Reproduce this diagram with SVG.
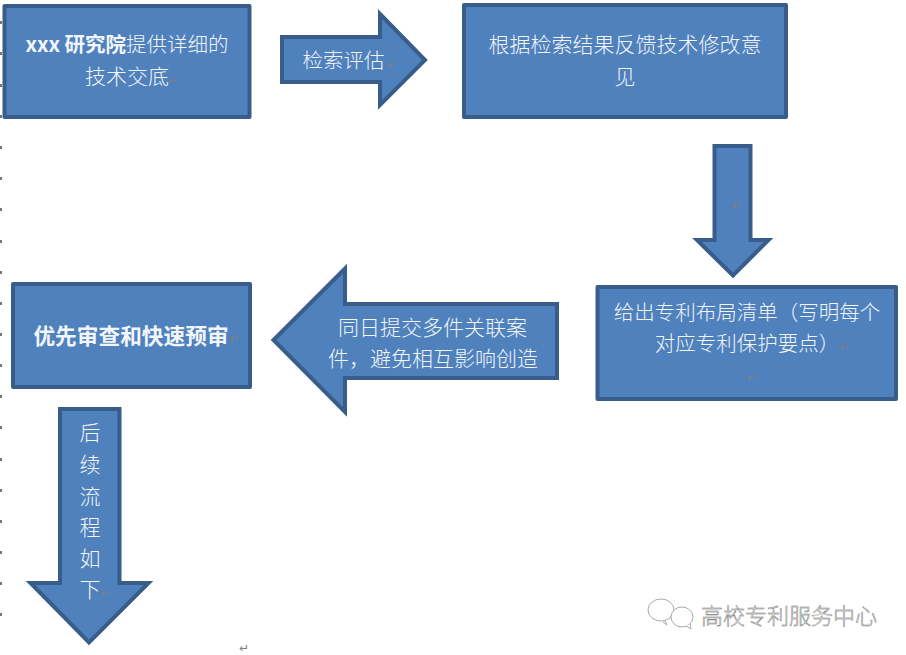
<svg xmlns="http://www.w3.org/2000/svg" width="906" height="655" viewBox="0 0 906 655">
<style>
.s{fill:#4f81bd;stroke:#385d8a;stroke-width:4;stroke-linejoin:miter}
.r{stroke-linejoin:round}
text{font-family:"Noto Sans CJK SC","Liberation Sans",sans-serif;font-size:21px;fill:#f2f5fa;text-anchor:middle;font-weight:300}
.b{font-weight:700}
.bb{font-weight:700;font-size:21.7px}
.n{font-size:20.5px}
.m{font-family:"DejaVu Sans",sans-serif;font-size:12px;fill:#7f7f7f;font-weight:400}
.w{fill:#fff;stroke:#777;stroke-width:.5;font-size:22px}
.t{fill:#777}
.i{fill:#fff;stroke:#aaa;stroke-width:1}
</style>
<g id="margin-ticks" class="t">
<rect x="0" y="21" width="2" height="3"/><rect x="0" y="52" width="2" height="3"/><rect x="0" y="84" width="2" height="3"/><rect x="0" y="115" width="2" height="3"/><rect x="0" y="146" width="2" height="3"/><rect x="0" y="177" width="2" height="3"/><rect x="0" y="208" width="2" height="3"/><rect x="0" y="240" width="2" height="3"/><rect x="0" y="271" width="2" height="3"/><rect x="0" y="302" width="2" height="3"/><rect x="0" y="333" width="2" height="3"/><rect x="0" y="364" width="2" height="3"/><rect x="0" y="395" width="2" height="3"/><rect x="0" y="426" width="2" height="3"/><rect x="0" y="458" width="2" height="3"/><rect x="0" y="489" width="2" height="3"/><rect x="0" y="520" width="2" height="3"/><rect x="0" y="551" width="2" height="3"/><rect x="0" y="582" width="2" height="3"/><rect x="0" y="613" width="2" height="3"/>
</g>
<g id="connectors">
<g id="arrow-search">
<path class="s" d="M282 37H380V14L425 60L380 105V82H282Z"/>
<text class="n" x="343.500" y="68">检索评估</text><text class="m" x="391" y="68">↵</text>
</g>
<g id="arrow-down-right">
<path class="s" d="M714.500 146H750.500V240H768.500L733 275.500L697 240H714.500Z"/>
<text class="m" x="736" y="209">↵</text>
</g>
<g id="arrow-left">
<path class="s" d="M557 304V378H345V412L273.500 340L345 268.500V304Z"/>
<text x="432.500" y="335">同日提交多件关联案</text><text x="433" y="366">件，避免相互影响创造</text>
</g>
<g id="arrow-down-left">
<path class="s" d="M60 409H119.500V583H148.500L89 642.500L30.500 583H60Z"/>
<text x="90" y="440">后</text><text x="90" y="472">续</text><text x="90" y="504">流</text><text x="90" y="535">程</text><text x="90" y="566">如</text><text x="90" y="597">下</text><text class="m" x="105" y="597">↵</text>
</g>
</g>
<g id="node-disclosure">
<rect class="s r" x="4.500" y="6" width="245" height="111"/>
<text class="n" x="127" y="52"><tspan class="b">xxx 研究院</tspan>提供详细的</text>
<text x="127" y="84">技术交底</text><text class="m" x="173" y="84">↵</text>
</g>
<g id="node-feedback">
<rect class="s r" x="464" y="5" width="322" height="112"/>
<text x="625" y="52">根据检索结果反馈技术修改意</text>
<text x="625" y="84">见</text>
</g>
<g id="node-list">
<rect class="s r" x="597.500" y="287" width="298.500" height="112"/>
<text class="n" x="747" y="320">给出专利布局清单（写明每个</text>
<text class="n" x="747" y="351">对应专利保护要点）</text>
<text class="m" x="844" y="351">↵</text><text class="m" x="751" y="381">↵</text>
</g>
<g id="node-priority">
<rect class="s r" x="13" y="284" width="237" height="103"/>
<text class="bb" x="131" y="344">优先审查和快速预审</text><text class="m" x="234" y="342">↵</text>
</g>
<text class="m" x="244" y="652">↵</text>
<g id="watermark">
<ellipse class="i" cx="661" cy="610" rx="13" ry="11"/>
<path class="i" d="M665 621L667 625L663 622"/>
<ellipse class="i" cx="682" cy="617" rx="11" ry="10"/>
<path class="i" d="M686 626L691 629L690 624"/>
<text class="w" x="789" y="624">高校专利服务中心</text>
</g>
</svg>
